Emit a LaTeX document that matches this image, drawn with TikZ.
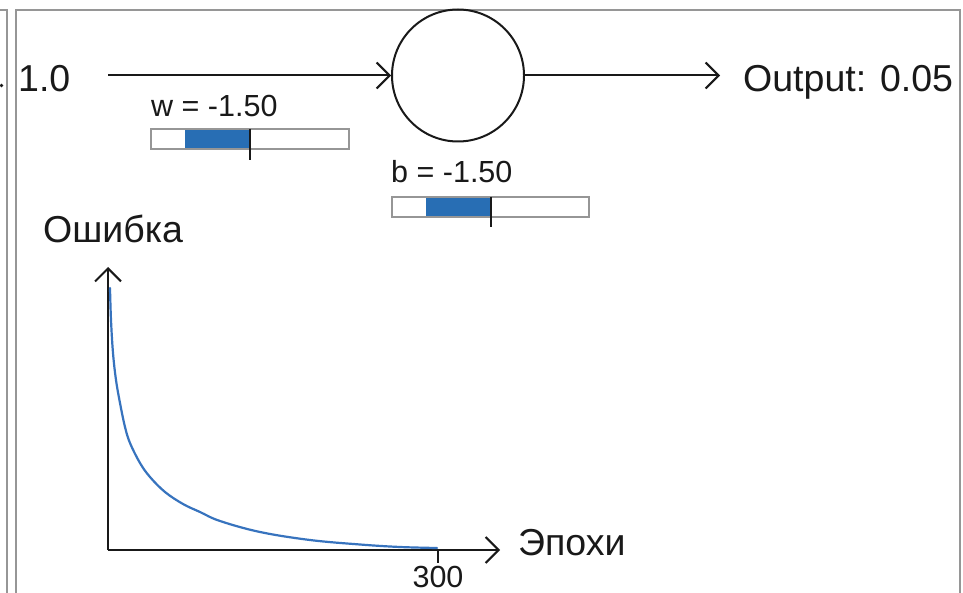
\documentclass[tikz,border=0pt]{standalone}
\usepackage{fontspec}
\setmainfont{Liberation Sans}
\usetikzlibrary{arrows.meta}
\definecolor{panel}{RGB}{150,150,150}
\definecolor{barblue}{RGB}{40,110,180}
\definecolor{curveblue}{RGB}{55,115,190}
\definecolor{ink}{RGB}{25,25,25}
\begin{document}
\begin{tikzpicture}[x=1pt,y=-1pt,
  panelline/.style={draw=panel,line width=2pt},
  conn/.style={draw=ink,line width=2pt,-{Straight Barb[length=13pt,width=26pt,line width=2pt]}},
  bigtxt/.style={font=\fontsize{37.5}{40}\selectfont,text=ink,inner sep=0pt},
  smalltxt/.style={font=\fontsize{30.5}{33}\selectfont,text=ink,inner sep=0pt},
  slider/.style={draw=panel,line width=1.8pt},
  fillbar/.style={fill=barblue},
  tickmark/.style={draw=ink,line width=1.6pt}]
\useasboundingbox (0,0) rectangle (963,593);
\fill[white] (0,0) rectangle (963,593);

% panel borders
\draw[panelline] (0,10) -- (7,10) -- (7,593);
\draw[panelline] (16,593) -- (16,10) -- (960,10) -- (960,593);
\fill[ink] (1.5,85.5) circle (1.8pt);

% neuron
\node[bigtxt,anchor=base west] (in) at (18,92) {1.0};
\coordinate (inStart) at (108,75.5);
\node[circle,draw=ink,line width=2pt,minimum size=132pt,inner sep=0pt] (neuron) at (458,75.5) {};
\coordinate (outEnd) at (720,75.5);
\draw[conn] (inStart) -- (neuron.west);
\draw[conn] (neuron.east) -- (outEnd);
\node[bigtxt,anchor=base west] (out) at (743,92) {Output: 0.05};

% w slider
\node[smalltxt,anchor=base west] (wlabel) at (151,117) {w = -1.50};
\fill[white] (151,129) rectangle (349,149);
\fill[fillbar] (185,129) rectangle (250,149);
\draw[slider] (151,129) rectangle (349,149);
\coordinate (wtickA) at (250,129);
\coordinate (wtickB) at (250,160);
\draw[tickmark] (wtickA) -- (wtickB);

% b slider
\node[smalltxt,anchor=base west] (blabel) at (391,183) {b = -1.50};
\fill[white] (392,197) rectangle (589,217);
\fill[fillbar] (426,197) rectangle (491,217);
\draw[slider] (392,197) rectangle (589,217);
\coordinate (btickA) at (491,197);
\coordinate (btickB) at (491,227);
\draw[tickmark] (btickA) -- (btickB);

% error plot
\node[bigtxt,anchor=base west] (ylabel) at (43,243) {Ошибка};
\coordinate (origin) at (108,550);
\coordinate (ytop) at (108,267);
\coordinate (xend) at (500,550);
\draw[conn] (origin) -- (ytop);
\draw[conn] (origin) -- (xend);
\coordinate (tickA) at (438,550);
\coordinate (tickB) at (438,563);
\draw[tickmark] (tickA) -- (tickB);
\node[smalltxt,anchor=base] (xtick) at (438,587) {300};
\node[bigtxt,anchor=base west] (xlabel) at (518,555) {Эпохи};
\draw[curveblue,line width=2.2pt,line cap=round] plot[smooth,tension=0.6] coordinates {
 (110,288) (111,320) (113,353) (116,380) (120,403) (125,427) (130,443) (140,463)
 (150,477) (165,492) (183,504) (200,512) (220,521) (260,532) (310,540) (360,544.5)
 (400,547) (437,548)};
\end{tikzpicture}
\end{document}
